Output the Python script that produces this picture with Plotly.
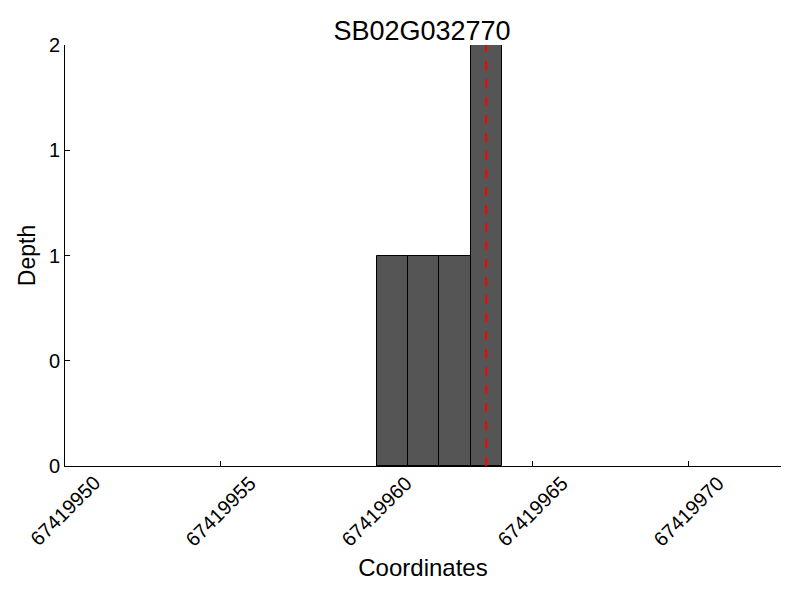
import plotly.graph_objects as go

title = "SB02G032770"
bin_starts = [67419960, 67419961, 67419962, 67419963]
depths = [1, 1, 1, 2]
marker_pos = 67419963.5
x_ticks = [67419950, 67419955, 67419960, 67419965, 67419970]
y_tickvals = [0, 0.5, 1, 1.5, 2]
y_ticktext = ["0", "0", "1", "1", "2"]

fig = go.Figure()
fig.add_trace(go.Bar(
    x=[s + 0.5 for s in bin_starts],
    y=depths,
    width=[1] * len(bin_starts),
    marker=dict(color="#555555", line=dict(color="black", width=1)),
    showlegend=False,
))
fig.add_shape(type="line", x0=marker_pos, x1=marker_pos, y0=0, y1=2,
              xref="x", yref="y", line=dict(color="red", width=2, dash="dash"))

# rotated tick labels centred under their ticks
for v in x_ticks:
    fig.add_annotation(x=v, y=0, xref="x", yref="paper", text=str(v),
                       textangle=-45, showarrow=False, xanchor="center",
                       yanchor="top", yshift=-3, font=dict(size=20))

font_family = "Liberation Sans, Arial, sans-serif"
fig.update_layout(
    width=800, height=600,
    margin=dict(l=57, r=27, t=37, b=142, autoexpand=False),
    plot_bgcolor="white", paper_bgcolor="white",
    font=dict(family=font_family, color="black", size=20),
    title=dict(text=title, x=0.5175, xanchor="center", y=0.963, yanchor="middle",
               font=dict(size=27)),
    bargap=0,
)
fig.update_xaxes(
    range=[67419950, 67419972.95],
    tickvals=x_ticks, showticklabels=False,
    ticks="inside", ticklen=5, tickcolor="black",
    showline=True, linecolor="black", linewidth=1, mirror=False,
    showgrid=False, zeroline=False, automargin=False,
    title=dict(text="Coordinates", font=dict(size=24), standoff=93),
)
fig.update_yaxes(
    range=[0, 2],
    tickvals=y_tickvals, ticktext=y_ticktext,
    ticks="inside", ticklen=5, tickcolor="black",
    showline=True, linecolor="black", linewidth=1,
    showgrid=False, zeroline=False, automargin=False,
    title=dict(text="Depth", font=dict(size=23), standoff=6),
    tickfont=dict(size=20),
)
fig.write_html("out.html")
